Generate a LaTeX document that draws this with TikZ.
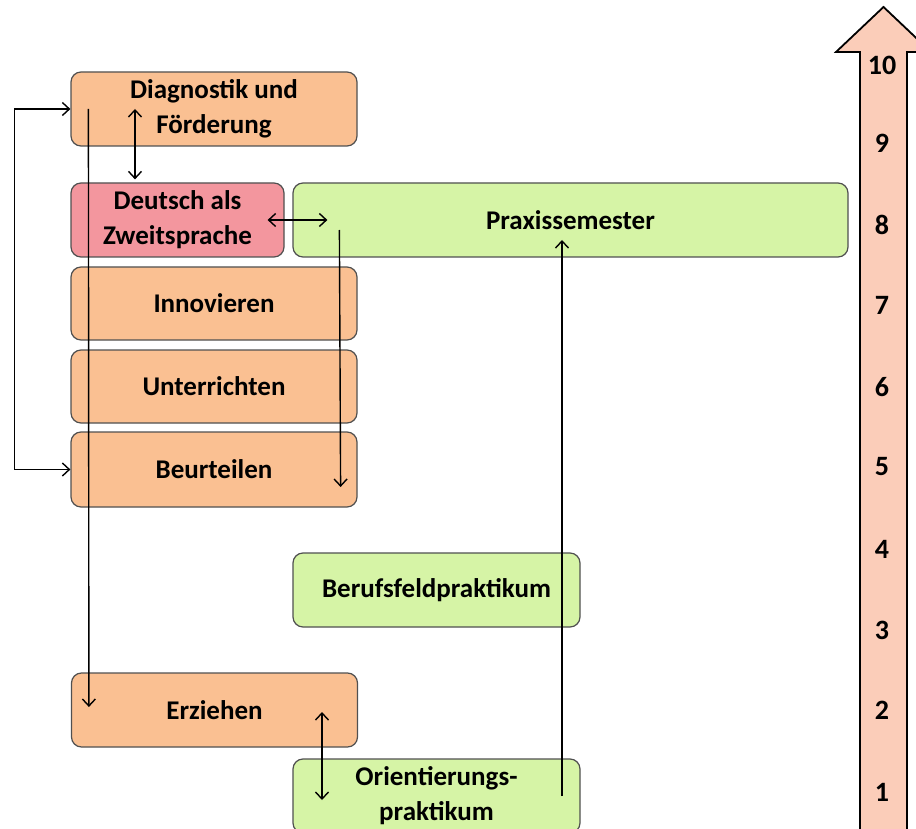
\documentclass[tikz,border=0pt]{standalone}
\usepackage{fontspec}
\setmainfont{Carlito}
\usetikzlibrary{arrows.meta}

\definecolor{boxorange}{RGB}{250,192,146}
\definecolor{boxred}{RGB}{243,150,158}
\definecolor{boxgreen}{RGB}{214,244,166}
\definecolor{scalefill}{RGB}{251,205,185}
\definecolor{boxline}{RGB}{80,80,80}

\begin{document}
\begin{tikzpicture}[x=1pt, y=-1pt,
  modul/.style={draw=boxline, line width=1.2pt, rounded corners=10pt,
    minimum width=286pt, minimum height=74pt, align=center,
    font=\fontsize{27}{35}\selectfont\bfseries},
  orangebox/.style={modul, fill=boxorange},
  redbox/.style={modul, fill=boxred, minimum width=213pt},
  greenbox/.style={modul, fill=boxgreen},
  link/.style={line width=1.4pt, -{Straight Barb[length=7pt,width=13pt]}},
  twolink/.style={line width=1.4pt, {Straight Barb[length=7pt,width=13pt]}-{Straight Barb[length=7pt,width=13pt]}},
  semnum/.style={font=\fontsize{28}{28}\selectfont\bfseries}]

  \clip (0,0) rectangle (916,829);

  % Semester scale as a large arrow
  \filldraw[fill=scalefill, draw=black, line width=1.8pt]
    (860,840) -- (860,52) -- (836,52) -- (883.5,7) -- (931,52) -- (907,52) -- (907,840) -- cycle;
  \foreach \s/\y in {10/65, 9/143, 8/225, 7/305, 6/387, 5/467, 4/549, 3/630, 2/710, 1/792}
    \node[semnum] (sem\s) at (882,\y) {\s};

  % Modules
  \node[orangebox] (diag) at (214,109) {Diagnostik und\\Förderung};
  \node[redbox] (daz) at (177.5,220) {Deutsch als\\Zweitsprache};
  \node[greenbox, minimum width=555pt] (praxis) at (570.5,220) {Praxissemester};
  \node[orangebox, minimum height=73pt] (innov) at (214,303.5) {Innovieren};
  \node[orangebox, minimum height=73pt] (unterr) at (214,386.5) {Unterrichten};
  \node[orangebox, minimum height=75pt] (beurt) at (214,469.5) {Beurteilen};
  \node[greenbox, minimum width=287pt] (beruf) at (436.5,590) {Berufsfeldpraktikum};
  \node[orangebox] (erz) at (214.5,710) {Erziehen};
  \node[greenbox, minimum width=287pt] (orient) at (436.5,796) {Orientierungs-\\praktikum};

  % Connections
  \draw[twolink] (diag.west) -- ++(-56,0) |- (beurt.west);
  \draw[link] ([xshift=18pt]diag.west) -- ([xshift=18pt,yshift=3pt]erz.west);
  \draw[twolink] ([xshift=-79pt]diag.center) -- ([xshift=-42.5pt,yshift=3pt]daz.north);
  \draw[twolink] ([xshift=-17pt]daz.east) -- ([xshift=35pt]praxis.west);
  \draw[link] ([xshift=47pt,yshift=-10pt]praxis.west) -- ([xshift=-17pt,yshift=-17.5pt]beurt.east);
  \draw[link] ([xshift=125.5pt]orient.center) -- ([xshift=-8.5pt,yshift=-20pt]praxis.center);
  \draw[twolink] ([xshift=107.5pt,yshift=-2pt]erz.center) -- ([xshift=-114.5pt,yshift=-4pt]orient.center);

\end{tikzpicture}
\end{document}
